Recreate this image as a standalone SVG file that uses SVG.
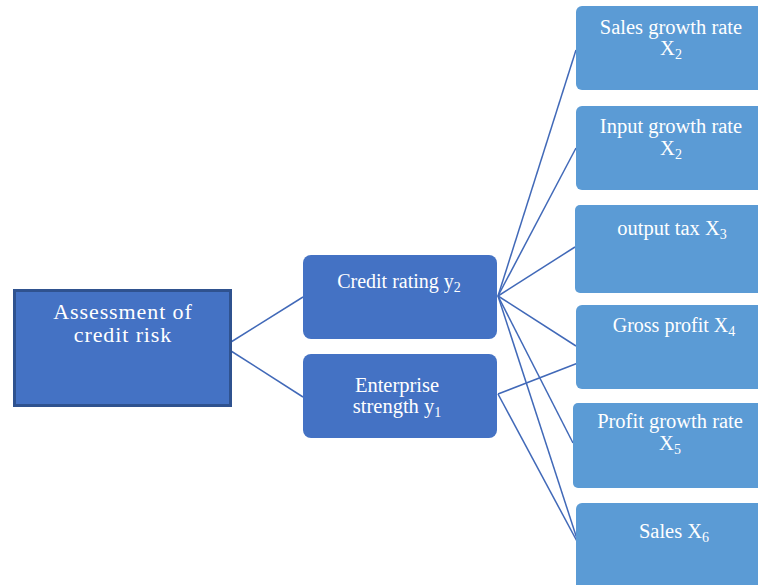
<svg xmlns="http://www.w3.org/2000/svg" width="758" height="585" viewBox="0 0 758 585">
<style>
.mid{fill:#4472C4}
.leaf{fill:#5B9BD5}
.t{font-family:"Liberation Serif","Times New Roman",serif;fill:#FFFFFF;text-anchor:middle}
.s{font-size:14px}
.c line{stroke:#4169B8;stroke-width:1.5;fill:none}
</style>
<rect width="758" height="585" fill="#FFFFFF"/>
<g class="c" id="connectors">
<line x1="231" y1="342" x2="303" y2="297"/>
<line x1="231" y1="351" x2="303" y2="397"/>
<line x1="498" y1="296" x2="576" y2="50"/>
<line x1="498" y1="296" x2="576" y2="148"/>
<line x1="498" y1="296" x2="575" y2="247"/>
<line x1="498" y1="296" x2="576" y2="346"/>
<line x1="498" y1="296" x2="573" y2="443"/>
<line x1="498" y1="296" x2="579" y2="545"/>
<line x1="498" y1="394" x2="578" y2="363"/>
<line x1="498" y1="394" x2="579" y2="545"/>
</g>
<g id="root">
<rect x="14.5" y="290.5" width="216" height="115" fill="#4472C4" stroke="#2F528F" stroke-width="3"/>
<text class="t" x="123" y="319" font-size="22" letter-spacing="0.9">Assessment of</text>
<text class="t" x="123" y="342" font-size="22" letter-spacing="0.9">credit risk</text>
</g>
<g id="credit-rating">
<rect class="mid" x="303" y="255" width="194" height="84" rx="8"/>
<text class="t" x="399" y="288" font-size="20">Credit rating y<tspan class="s" dy="4">2</tspan></text>
</g>
<g id="enterprise-strength">
<rect class="mid" x="303" y="354" width="194" height="84" rx="8"/>
<text class="t" x="397" y="392" font-size="20.5">Enterprise</text>
<text class="t" x="397" y="413" font-size="20.5">strength y<tspan class="s" dy="4">1</tspan></text>
</g>
<g id="sales-growth">
<rect class="leaf" x="576" y="6" width="200" height="84" rx="6"/>
<text class="t" x="671" y="34" font-size="20.5">Sales growth rate</text>
<text class="t" x="671" y="55" font-size="20.5">X<tspan class="s" dy="4">2</tspan></text>
</g>
<g id="input-growth">
<rect class="leaf" x="576" y="106" width="200" height="84" rx="6"/>
<text class="t" x="671" y="133" font-size="20.5">Input growth rate</text>
<text class="t" x="671" y="155" font-size="20.5">X<tspan class="s" dy="4">2</tspan></text>
</g>
<g id="output-tax">
<rect class="leaf" x="575" y="205" width="200" height="88" rx="5"/>
<text class="t" x="672" y="235" font-size="20.5">output tax X<tspan class="s" dy="4">3</tspan></text>
</g>
<g id="gross-profit">
<rect class="leaf" x="576" y="305" width="200" height="84" rx="6"/>
<text class="t" x="674" y="332" font-size="20">Gross profit X<tspan class="s" dy="4">4</tspan></text>
</g>
<g id="profit-growth">
<rect class="leaf" x="573" y="403" width="200" height="85" rx="5"/>
<text class="t" x="670" y="428" font-size="20.5">Profit growth rate</text>
<text class="t" x="670" y="450" font-size="20.5">X<tspan class="s" dy="4">5</tspan></text>
</g>
<g id="sales">
<rect class="leaf" x="576" y="503" width="200" height="100" rx="6"/>
<text class="t" x="674" y="538" font-size="20.5">Sales X<tspan class="s" dy="4">6</tspan></text>
</g>
</svg>
